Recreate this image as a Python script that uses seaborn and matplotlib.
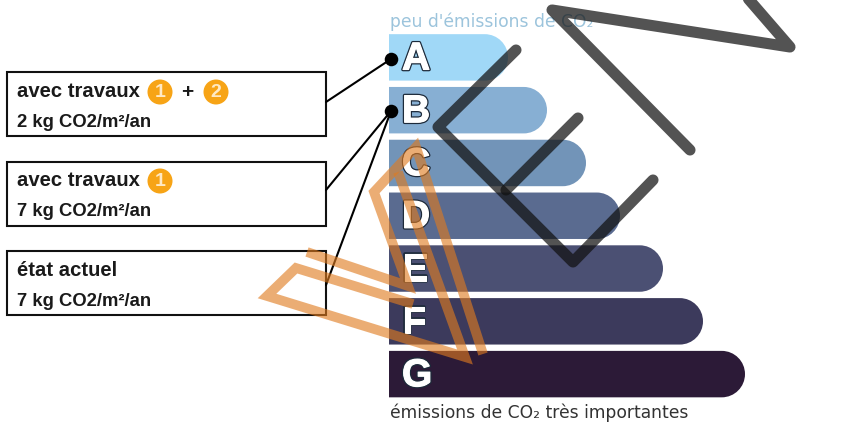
import seaborn as sns
import matplotlib.pyplot as plt
import matplotlib.patheffects as pe
import pandas as pd
from matplotlib.patches import PathPatch, Rectangle, Circle
from matplotlib.path import Path
from matplotlib.transforms import IdentityTransform

# etiquette energie, longueur des barres
classes = ['A', 'B', 'C', 'D', 'E', 'F', 'G']
longueurs = [119, 158, 197, 231, 274, 314, 356]
couleurs = ['#A0D8F7', '#87AFD3', '#7294B8', '#5A6B90', '#4B5073', '#3C3A5C', '#2C1A37']

titre_haut = "peu d'émissions de CO₂"
titre_bas = 'émissions de CO₂ très importantes'
lignes_titre = ['avec travaux', 'avec travaux', 'état actuel']
lignes_valeur = ['2 kg CO2/m²/an', '7 kg CO2/m²/an', '7 kg CO2/m²/an']

# filigrane
logo_noir = [
    [(745, -5), (790, 47), (552, 10), (690, 150)],
    [(516, 50), (438, 127), (573, 262), (653, 180)],
    [(578, 118), (506, 190)],
]
logo_orange = [
    [(307, 252), (408, 286), (374, 192), (416, 147), (483, 354)],
    [(413, 304), (296, 268), (267, 296), (465, 357), (398, 172)],
]

df = pd.DataFrame({'classe': classes, 'longueur': longueurs})

sns.set_theme(style='white')
plt.rcParams['font.family'] = ['Liberation Sans', 'DejaVu Sans']

W, H = 843, 422
fig = plt.figure(figsize=(W / 100, H / 100), dpi=100)

# axe des barres, en pixels sur la largeur
ax = fig.add_axes([389 / W, 1 - 400.5 / H, (W - 389) / W, 369.5 / H])
sns.barplot(data=df, x='longueur', y='classe', hue='classe', palette=couleurs,
            dodge=False, saturation=1, width=0.88, legend=False, ax=ax)
ax.set_xlim(0, W - 389)
ax.set_ylim(6.5, -0.5)
ax.axis('off')


def bout_arrondi(x0, y0, x1, y1, couleur):
    # carre a gauche, demi-cercle a droite (coordonnees ecran)
    r = (y1 - y0) / 2
    k = 0.5523 * r
    verts = [(x0, y0), (x1 - r, y0),
             (x1 - r + k, y0), (x1, y0 + r - k), (x1, y0 + r),
             (x1, y0 + r + k), (x1 - r + k, y1), (x1 - r, y1),
             (x0, y1), (x0, y0)]
    codes = [Path.MOVETO, Path.LINETO, Path.CURVE4, Path.CURVE4, Path.CURVE4,
             Path.CURVE4, Path.CURVE4, Path.CURVE4, Path.LINETO, Path.CLOSEPOLY]
    return PathPatch(Path(verts, codes), transform=IdentityTransform(), fc=couleur, ec='none')


# chaque barre seaborn est redessinee avec son bout arrondi, meme geometrie
for bar in list(ax.patches):
    (x0, y0), (x1, y1) = ax.transData.transform(
        [(bar.get_x(), bar.get_y() + bar.get_height()), (bar.get_x() + bar.get_width(), bar.get_y())])
    ax.add_artist(bout_arrondi(x0, y0, x1, y1, bar.get_facecolor()))
    bar.set_visible(False)

for i, c in enumerate(classes):
    ax.text(13, i + 0.04, c, fontsize=28, fontweight='bold', color='white', va='center', ha='left',
            zorder=5,
            path_effects=[pe.Stroke(linewidth=2.6, foreground='#1d2a3a'),
                          pe.Stroke(linewidth=0.8, foreground='white'), pe.Normal()])

# calque en pixels pour cadres, liens et filigrane
ov = fig.add_axes([0, 0, 1, 1], facecolor='none')
ov.set_xlim(0, W)
ov.set_ylim(H, 0)
ov.axis('off')

ov.text(390, 27, titre_haut, fontsize=12.3, color='#9CC4DC', family='DejaVu Sans')
ov.text(390, 418, titre_bas, fontsize=12.3, color='#333333', family='DejaVu Sans')

hauts = [72, 161.5, 251]
for h, t, v in zip(hauts, lignes_titre, lignes_valeur):
    ov.add_patch(Rectangle((7, h), 318.5, 64, fc='white', ec='#111111', lw=1.5))
    ov.text(17, h + 25, t, fontsize=14.6, fontweight='bold', color='#1a1a1a')
    ov.text(17, h + 55, v, fontsize=13.3, fontweight='bold', color='#1a1a1a')


def pastille(x, y, txt):
    ov.add_patch(Circle((x, y), 12.5, fc='#F7A416', ec='none'))
    ov.text(x, y + 0.5, txt, fontsize=14, fontweight='bold', color='#FFE9C4', ha='center', va='center')


pastille(160, 92, '1')
pastille(216, 92, '2')
pastille(160, 181, '1')
ov.text(187, 92, '+', fontsize=15, fontweight='bold', color='#1a1a1a', ha='center', va='center')

# liens vers les classes
for depart, arrivee in [((326, 102), (391, 59)), ((326, 190), (391, 111)), ((326, 285), (391, 111))]:
    ov.plot([depart[0], arrivee[0]], [depart[1], arrivee[1]], color='black', lw=1.5)
ov.scatter([391, 391], [59, 111], s=95, color='black', zorder=5, linewidths=0)

for seg in logo_orange:
    ov.plot([p[0] for p in seg], [p[1] for p in seg], color='#E07B1F', alpha=0.62, lw=7,
            solid_capstyle='butt', solid_joinstyle='miter', zorder=6)
for seg in logo_noir:
    ov.plot([p[0] for p in seg], [p[1] for p in seg], color='#111111', alpha=0.72, lw=8,
            solid_capstyle='round', solid_joinstyle='round', zorder=7)

fig.savefig('out.png', dpi=100, facecolor='white')
